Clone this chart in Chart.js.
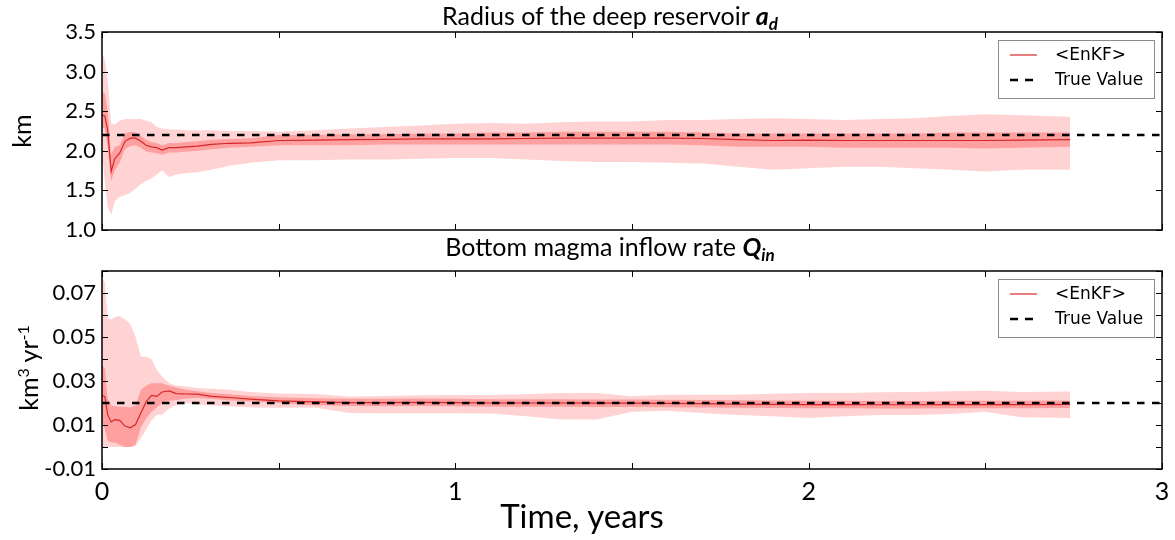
<!DOCTYPE html>
<html>
<head>
<meta charset="utf-8">
<script src="https://cdn.jsdelivr.net/npm/chart.js@4"></script>
<style>
body { margin: 0; background: #fff; width: 1175px; height: 540px; overflow: hidden; position: relative; font-family: Lato, sans-serif; color: #000; }
canvas { position: absolute; left: 0; }
#c1 { top: 0; }
#c2 { top: 240px; }
.ttl { position: absolute; left: 0; width: 1220px; text-align: center; font-size: 25px; white-space: nowrap; line-height: 30px; }
.ttl b { font-style: italic; }
.ttl sub { font-size: 17px; vertical-align: -5px; line-height: 0; }
.ylab { position: absolute; font-size: 25px; line-height: 30px; white-space: nowrap; transform: translate(-50%, -50%) rotate(-90deg); }
.ylab sup { font-size: 16px; vertical-align: 9px; line-height: 0; }
</style>
</head>
<body>
<canvas id="c1" width="1175" height="250"></canvas>
<canvas id="c2" width="1175" height="300"></canvas>
<div class="ttl" style="top:0px">Radius of the deep reservoir <b>a<sub>d</sub></b></div>
<div class="ttl" style="top:231px">Bottom magma inflow rate <b>Q<sub>in</sub></b></div>
<div class="ttl" style="top:496px; width:1164px; font-size:33px; line-height:39px">Time, years</div>
<div class="ylab" style="left:21px; top:131px">km</div>
<div class="ylab" style="left:28px; top:368px">km<sup>3</sup> yr<sup>-1</sup></div>
<script>
// time axis (years)
const time = [0, 0.008, 0.016, 0.026, 0.036, 0.05, 0.065, 0.08, 0.095, 0.11,
	0.125, 0.14, 0.155, 0.17, 0.19, 0.21, 0.24, 0.27, 0.31, 0.36,
	0.42, 0.5, 0.6, 0.7, 0.8, 0.9, 1.0, 1.1, 1.2, 1.3,
	1.4, 1.5, 1.6, 1.7, 1.8, 1.9, 2.0, 2.1, 2.2, 2.3,
	2.4, 2.5, 2.6, 2.74];

// radius of the deep reservoir (km)
const radiusTrue = 2.2;
const radiusMean = [2.45, 2.44, 2.26, 1.74, 1.90, 1.97, 2.12, 2.16, 2.16, 2.12,
	2.07, 2.05, 2.04, 2.01, 2.04, 2.04, 2.05, 2.06, 2.08, 2.095,
	2.10, 2.13, 2.135, 2.14, 2.145, 2.15, 2.15, 2.15, 2.155, 2.16,
	2.16, 2.16, 2.16, 2.155, 2.14, 2.13, 2.135, 2.13, 2.13, 2.13,
	2.13, 2.13, 2.135, 2.14];
const radiusInnerHi = [2.75, 2.72, 2.50, 1.95, 2.05, 2.07, 2.22, 2.24, 2.23, 2.19,
	2.14, 2.11, 2.10, 2.07, 2.10, 2.10, 2.11, 2.12, 2.14, 2.15,
	2.16, 2.20, 2.20, 2.21, 2.21, 2.22, 2.22, 2.23, 2.23, 2.24,
	2.24, 2.24, 2.24, 2.23, 2.22, 2.22, 2.22, 2.22, 2.22, 2.22,
	2.23, 2.23, 2.23, 2.23];
const radiusInnerLo = [2.30, 2.28, 2.05, 1.62, 1.75, 1.85, 2.02, 2.06, 2.07, 2.04,
	1.99, 1.98, 1.97, 1.95, 1.98, 1.98, 1.99, 2.00, 2.02, 2.04,
	2.05, 2.07, 2.07, 2.07, 2.08, 2.08, 2.08, 2.08, 2.08, 2.08,
	2.08, 2.08, 2.08, 2.07, 2.05, 2.05, 2.05, 2.04, 2.04, 2.04,
	2.04, 2.03, 2.04, 2.05];
const radiusOuterHi = [3.23, 3.15, 2.90, 2.35, 2.33, 2.38, 2.40, 2.40, 2.40, 2.40,
	2.38, 2.36, 2.30, 2.28, 2.27, 2.27, 2.26, 2.26, 2.26, 2.25,
	2.25, 2.24, 2.26, 2.28, 2.30, 2.32, 2.34, 2.35, 2.34, 2.36,
	2.37, 2.37, 2.39, 2.39, 2.40, 2.41, 2.40, 2.39, 2.40, 2.41,
	2.44, 2.46, 2.45, 2.43];
const radiusOuterLo = [2.00, 1.60, 1.30, 1.19, 1.36, 1.42, 1.44, 1.47, 1.52, 1.58,
	1.62, 1.65, 1.70, 1.75, 1.67, 1.70, 1.72, 1.73, 1.76, 1.81,
	1.85, 1.88, 1.88, 1.89, 1.89, 1.90, 1.91, 1.91, 1.89, 1.87,
	1.86, 1.86, 1.85, 1.84, 1.80, 1.76, 1.78, 1.80, 1.80, 1.78,
	1.76, 1.74, 1.76, 1.76];

// bottom magma inflow rate (km3/yr)
const inflowTrue = 0.02;
const inflowMean = [0.0233, 0.0230, 0.0147, 0.0114, 0.0124, 0.0121, 0.0095, 0.0087, 0.0102, 0.0155,
	0.0205, 0.0235, 0.0230, 0.0250, 0.0255, 0.0243, 0.0241, 0.0240, 0.0230, 0.0225,
	0.0218, 0.0210, 0.0205, 0.0202, 0.0202, 0.0203, 0.0202, 0.0200, 0.0200, 0.0200,
	0.0199, 0.0199, 0.0198, 0.0197, 0.0195, 0.0194, 0.0193, 0.0193, 0.0192, 0.0192,
	0.0193, 0.0193, 0.0193, 0.0194];
const inflowInnerHi = [0.0367, 0.0360, 0.0220, 0.0190, 0.0185, 0.0183, 0.0183, 0.0180, 0.0190, 0.0260,
	0.0280, 0.0290, 0.0290, 0.0290, 0.0280, 0.0270, 0.0260, 0.0253, 0.0245, 0.0240,
	0.0232, 0.0226, 0.0222, 0.0219, 0.0219, 0.0220, 0.0219, 0.0217, 0.0217, 0.0217,
	0.0216, 0.0216, 0.0215, 0.0214, 0.0212, 0.0211, 0.0210, 0.0210, 0.0209, 0.0209,
	0.0210, 0.0210, 0.0210, 0.0211];
const inflowInnerLo = [0.0120, 0.0080, 0.0030, 0.0020, 0.0020, 0.0010, 0.0000, 0.0000, 0.0010, 0.0090,
	0.0130, 0.0160, 0.0180, 0.0200, 0.0210, 0.0214, 0.0220, 0.0223, 0.0218, 0.0212,
	0.0207, 0.0200, 0.0190, 0.0186, 0.0185, 0.0186, 0.0185, 0.0183, 0.0183, 0.0183,
	0.0182, 0.0182, 0.0181, 0.0180, 0.0178, 0.0177, 0.0176, 0.0176, 0.0175, 0.0175,
	0.0176, 0.0176, 0.0176, 0.0177];
const inflowOuterHi = [0.0768, 0.0750, 0.0586, 0.0580, 0.0590, 0.0595, 0.0580, 0.0560, 0.0500, 0.0410,
	0.0410, 0.0400, 0.0350, 0.0320, 0.0290, 0.0280, 0.0275, 0.0268, 0.0265, 0.0260,
	0.0250, 0.0243, 0.0241, 0.0230, 0.0232, 0.0235, 0.0236, 0.0236, 0.0240, 0.0245,
	0.0245, 0.0231, 0.0237, 0.0238, 0.0238, 0.0242, 0.0245, 0.0246, 0.0249, 0.0250,
	0.0253, 0.0256, 0.0250, 0.0252];
const inflowOuterLo = [0.0000, 0.0000, 0.0000, 0.0000, 0.0000, 0.0000, 0.0000, 0.0000, 0.0005, 0.0040,
	0.0080, 0.0120, 0.0147, 0.0147, 0.0175, 0.0190, 0.0200, 0.0193, 0.0190, 0.0185,
	0.0180, 0.0178, 0.0180, 0.0155, 0.0153, 0.0153, 0.0153, 0.0152, 0.0140, 0.0125,
	0.0125, 0.0160, 0.0165, 0.0155, 0.0145, 0.0140, 0.0132, 0.0140, 0.0145, 0.0145,
	0.0150, 0.0160, 0.0135, 0.0132];

const legendLabels = ["<EnKF>", "True Value"];

const RED = "#d62728";
const OUTER = "#ffd3d3";
const INNER = "#ffa0a0";

function pts(arr) {
	return time.map((t, i) => ({x: t, y: arr[i]}));
}

// black frame + inward tick marks on all four sides
const frameTicks = {
	id: "frameTicks",
	afterDatasetsDraw(chart) {
		const {ctx, chartArea: a, scales} = chart;
		ctx.save();
		ctx.strokeStyle = "#000";
		ctx.lineWidth = 1;
		ctx.beginPath();
		for (const tk of scales.x.ticks) {
			const px = Math.round(scales.x.getPixelForValue(tk.value)) + 0.5;
			ctx.moveTo(px, a.top); ctx.lineTo(px, a.top + 6);
			ctx.moveTo(px, a.bottom); ctx.lineTo(px, a.bottom - 6);
		}
		for (const tk of scales.y.ticks) {
			const py = Math.round(scales.y.getPixelForValue(tk.value)) + 0.5;
			ctx.moveTo(a.left, py); ctx.lineTo(a.left + 6, py);
			ctx.moveTo(a.right, py); ctx.lineTo(a.right - 6, py);
		}
		ctx.stroke();
		ctx.lineWidth = 1.5;
		ctx.strokeRect(a.left, a.top, a.right - a.left, a.bottom - a.top);
		ctx.restore();
	}
};

// framed legend in the upper right corner
const boxLegend = {
	id: "boxLegend",
	afterDraw(chart) {
		const {ctx, chartArea: a} = chart;
		const x0 = a.right - 164, y0 = a.top + 8;
		ctx.save();
		ctx.fillStyle = "#fff";
		ctx.strokeStyle = "#8c8c8c";
		ctx.lineWidth = 1;
		ctx.fillRect(x0, y0, 156, 58);
		ctx.strokeRect(x0 + 0.5, y0 + 0.5, 156, 58);

		ctx.strokeStyle = RED;
		ctx.lineWidth = 1.2;
		ctx.beginPath();
		ctx.moveTo(x0 + 12, y0 + 15); ctx.lineTo(x0 + 39, y0 + 15);
		ctx.stroke();

		ctx.strokeStyle = "#000";
		ctx.lineWidth = 2.5;
		ctx.setLineDash([8, 7]);
		ctx.beginPath();
		ctx.moveTo(x0 + 12, y0 + 40); ctx.lineTo(x0 + 39, y0 + 40);
		ctx.stroke();
		ctx.setLineDash([]);

		ctx.fillStyle = "#000";
		ctx.font = "17px 'DejaVu Sans'";
		ctx.textBaseline = "middle";
		ctx.fillText(legendLabels[0], x0 + 57, y0 + 16);
		ctx.fillText(legendLabels[1], x0 + 57, y0 + 41);
		ctx.restore();
	}
};

function makeChart(id, s) {
	const datasets = [
		{data: [{x: 0, y: s.trueVal}, {x: 3, y: s.trueVal}], borderColor: "#000", borderWidth: 2.5, borderDash: [7.5, 7.5], pointRadius: 0, fill: false},
		{data: pts(s.mean), borderColor: RED, borderWidth: 1.2, pointRadius: 0, fill: false},
		{data: pts(s.innerHi), borderWidth: 0, pointRadius: 0, backgroundColor: INNER, fill: "+1"},
		{data: pts(s.innerLo), borderWidth: 0, pointRadius: 0, fill: false},
		{data: pts(s.outerHi), borderWidth: 0, pointRadius: 0, backgroundColor: OUTER, fill: "+1"},
		{data: pts(s.outerLo), borderWidth: 0, pointRadius: 0, fill: false}
	];

	return new Chart(document.getElementById(id), {
		type: "line",
		data: {datasets},
		options: {
			responsive: false,
			animation: false,
			layout: {padding: {left: 0, right: 13, top: s.padTop, bottom: 0}},
			plugins: {legend: {display: false}, tooltip: {enabled: false}},
			elements: {line: {tension: 0}},
			scales: {
				x: {
					type: "linear",
					min: 0,
					max: 3,
					grid: {display: false, drawTicks: false},
					border: {display: false},
					ticks: {
						display: s.showX,
						stepSize: 0.5,
						autoSkip: false,
						maxRotation: 0,
						padding: 8,
						color: "#000",
						font: {family: "Lato", size: 25},
						callback: v => Number.isInteger(v) ? String(v) : ""
					},
					afterFit: sc => {
						sc.height = s.xHeight;
						sc.paddingLeft = 0;
						sc.paddingRight = 0;
					}
				},
				y: {
					min: s.yMin,
					max: s.yMax,
					grid: {display: false, drawTicks: false},
					border: {display: false},
					ticks: {
						stepSize: s.yStep,
						autoSkip: false,
						padding: 6,
						color: "#000",
						font: {family: "Lato", size: 22},
						callback: s.yLabel
					},
					afterFit: sc => {
						sc.width = 102;
						sc.paddingTop = 0;
						sc.paddingBottom = 0;
					}
				}
			}
		},
		plugins: [frameTicks, boxLegend]
	});
}

makeChart("c1", {
	trueVal: radiusTrue, mean: radiusMean,
	innerHi: radiusInnerHi, innerLo: radiusInnerLo,
	outerHi: radiusOuterHi, outerLo: radiusOuterLo,
	padTop: 32, showX: false, xHeight: 20,
	yMin: 1, yMax: 3.5, yStep: 0.5,
	yLabel: v => v.toFixed(1)
});

makeChart("c2", {
	trueVal: inflowTrue, mean: inflowMean,
	innerHi: inflowInnerHi, innerLo: inflowInnerLo,
	outerHi: inflowOuterHi, outerLo: inflowOuterLo,
	padTop: 31, showX: true, xHeight: 71,
	yMin: -0.01, yMax: 0.08, yStep: 0.01,
	yLabel: v => {
		const k = Math.round(v * 100);
		return k % 2 !== 0 ? (k / 100).toFixed(2) : "";
	}
});
</script>
</body>
</html>
